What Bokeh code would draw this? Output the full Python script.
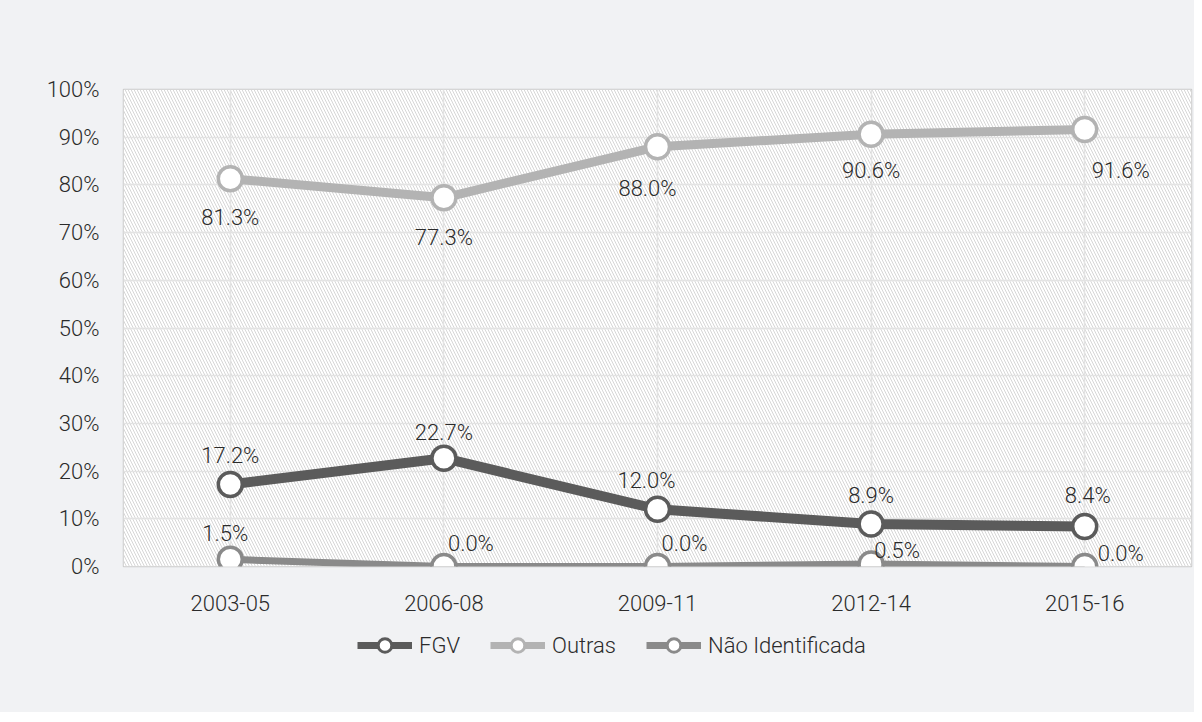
from bokeh.plotting import figure
from bokeh.layouts import column
from bokeh.models import (ColumnDataSource, FactorRange, Range1d, FixedTicker,
                          PrintfTickFormatter, BoxAnnotation, Legend, LegendItem)
from bokeh.core.properties import value
from bokeh.embed import file_html
from bokeh.resources import INLINE

# ---- data ----
periods = ["2003-05", "2006-08", "2009-11", "2012-14", "2015-16"]
fgv = [17.2, 22.7, 12.0, 8.9, 8.4]
outras = [81.3, 77.3, 88.0, 90.6, 91.6]
nao_ident = [1.5, 0.0, 0.0, 0.5, 0.0]
series_names = ["FGV", "Outras", "Não Identificada"]
y_ticks = [0, 10, 20, 30, 40, 50, 60, 70, 80, 90, 100]

# ---- styling / label placement (pixels) ----
FONT = "Roboto Light, Roboto"
FS = "22px"
TEXT = "#2b2b2b"
BG = "#f1f2f4"
colors = ["#5b5b5b", "#b3b3b3", "#8a8a8a"]
widths = [10, 9, 7]
label_dx = [[0, 0, -11, 0, 3], [0, 0, -10, 0, 36], [-5, 27, 27, 26, 36]]
label_dy = [[-29, -26, -29, -29, -31], [39, 40, 42, 36, 41], [-26, -23, -23, -14, -13]]

p = figure(width=1194, height=620, x_range=FactorRange(*periods),
           y_range=Range1d(0, 100), output_backend="svg", toolbar_location=None,
           min_border_left=123, min_border_right=3, min_border_top=89,
           min_border_bottom=54)
p.background_fill_color = BG
p.border_fill_color = BG
p.outline_line_color = "#c9c9c9"
p.outline_line_width = 1.5

# hatched plot area
box = BoxAnnotation(fill_color="white", fill_alpha=1, line_alpha=0,
                    hatch_pattern="\\", hatch_color="#d6d6d6", hatch_scale=6,
                    hatch_weight=1, level="image")
p.add_layout(box)

p.xgrid.grid_line_color = "#e3e3e3"
p.ygrid.grid_line_color = "#e3e3e3"
p.xgrid.grid_line_width = 1.5
p.ygrid.grid_line_width = 1.5

for ax in (p.xaxis, p.yaxis):
    ax.axis_line_color = None
    ax.major_tick_line_color = None
    ax.minor_tick_line_color = None
    ax.major_label_text_font = FONT
    ax.major_label_text_font_size = FS
    ax.major_label_text_color = TEXT
p.yaxis.ticker = FixedTicker(ticks=y_ticks)
p.yaxis.formatter = PrintfTickFormatter(format="%d%%")
p.yaxis.major_label_standoff = 18
p.xaxis.major_label_standoff = 22

# legend strip (separate figure so the legend sits below the axis)
lg = figure(width=1194, height=92, x_range=Range1d(0, 1), y_range=Range1d(0, 1),
            output_backend="svg", toolbar_location=None,
            min_border_left=0, min_border_right=0, min_border_top=0,
            min_border_bottom=0)
lg.background_fill_color = BG
lg.border_fill_color = BG
lg.outline_line_color = None
lg.axis.visible = False
lg.grid.visible = False

items = []
for i, (name, vals) in enumerate(zip(series_names, [fgv, outras, nao_ident])):
    src = ColumnDataSource(dict(x=periods, y=vals,
                                lab=["%.1f%%" % v for v in vals],
                                dx=label_dx[i], dy=label_dy[i]))
    p.line("x", "y", source=src, line_color=colors[i], line_width=widths[i])
    p.scatter("x", "y", source=src, size=24, fill_color="white",
              line_color=colors[i], line_width=3.5)
    p.text("x", "y", text="lab", source=src, x_offset="dx", y_offset="dy",
           text_align="center", text_baseline="middle",
           text_font=value(FONT), text_font_size=FS, text_color=TEXT)
    # legend proxies (outside the visible range of the strip)
    ln = lg.line([-5, -4], [-5, -4], line_color=colors[i], line_width=7)
    sc = lg.scatter([-5], [-5], size=14, fill_color="white",
                    line_color=colors[i], line_width=3)
    items.append(LegendItem(label=name, renderers=[ln, sc]))

legend = Legend(items=items, orientation="horizontal", location=(228, 44),
                background_fill_alpha=0, border_line_alpha=0,
                label_text_font=FONT, label_text_font_size=FS,
                label_text_color=TEXT, glyph_width=55, glyph_height=34,
                label_standoff=7, spacing=30, margin=0, padding=6)
lg.add_layout(legend)

page = column(p, lg, spacing=0, background=BG)
open("out.html", "w").write(file_html(page, INLINE))
